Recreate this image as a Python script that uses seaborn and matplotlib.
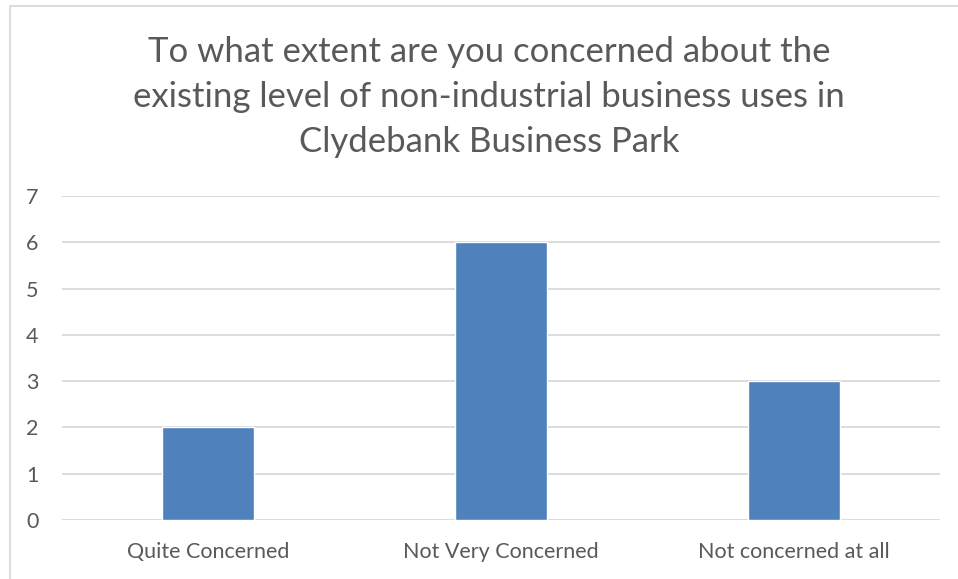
import pandas as pd
import seaborn as sns
import matplotlib.pyplot as plt
from matplotlib.patches import Rectangle

categories = ["Quite Concerned", "Not Very Concerned", "Not concerned at all"]
counts = [2, 6, 3]
yticks = [0, 1, 2, 3, 4, 5, 6, 7]
title = ("To what extent are you concerned about the\n"
         "existing level of non-industrial business uses in\n"
         "Clydebank Business Park")

df = pd.DataFrame({"answer": categories, "count": counts})

sns.set_style("white")
plt.rcParams['font.family'] = ['Lato', 'DejaVu Sans']

fig = plt.figure(figsize=(9.58, 5.79), dpi=100)
ax = fig.add_axes([62/958, 1 - 520/579, 878/958, (520 - 196)/579])

sns.barplot(data=df, x="answer", y="count", color="#4f81bd", width=0.314,
            saturation=1, ax=ax, zorder=3)

ax.set_xlim(-0.5, 2.5)
ax.set_ylim(0, 7)
ax.set_yticks(yticks)
ax.yaxis.grid(True, color="#d9d9d9", linewidth=1.3, zorder=0)
ax.set_axisbelow(True)
for s in ax.spines.values():
    s.set_visible(False)
ax.set_xlabel("")
ax.set_ylabel("")
ax.tick_params(axis="both", length=0, labelsize=15.5, labelcolor="#595959")
ax.tick_params(axis="y", pad=17)
ax.tick_params(axis="x", pad=16)

fig.text(489/958, 1 - 97/579, title, ha="center", va="center", fontsize=25,
         color="#595959", linespacing=1.5)

fig.patches.append(Rectangle((10/958, -0.05), 1.0, 1 - 6/579 + 0.05,
                             transform=fig.transFigure, fill=False,
                             edgecolor="#d9d9d9", linewidth=1.3))

fig.savefig("out.png", dpi=100)
